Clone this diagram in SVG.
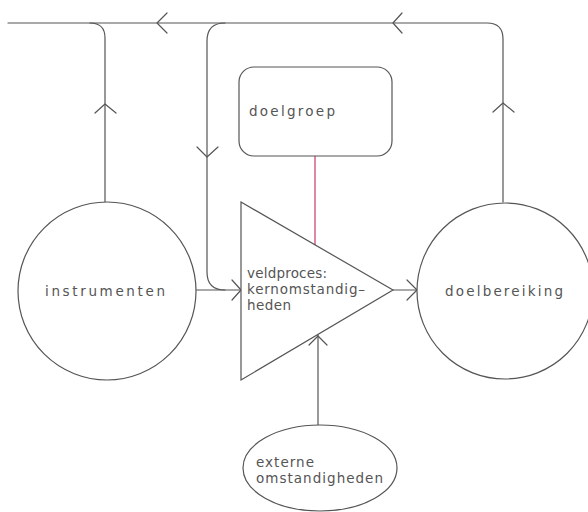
<svg xmlns="http://www.w3.org/2000/svg" width="588" height="512" viewBox="0 0 588 512">
<style>
.ln{fill:none;stroke:#555;stroke-width:1.2;stroke-linejoin:round;stroke-linecap:round}
.pk{stroke:#c8386a}
.nd{fill:#fff;stroke:#555;stroke-width:1.2}
.tx{font-family:"DejaVu Sans","Liberation Sans",sans-serif;font-size:13.5px;fill:#555}
</style>
<rect width="588" height="512" fill="#fff"/>
<g id="connectors">
<path class="ln" d="M8 23 H487 Q503 23 503 39 V202"/>
<path class="ln" d="M90 23 Q105 23 105 38 V202"/>
<path class="ln" d="M225 23 Q207 23 207 41 V272 Q207 290 225 290"/>
<path class="ln" d="M196 290 H241"/>
<path class="ln" d="M393 290 H417"/>
<path class="ln pk" d="M315 156 V245"/>
<path class="ln" d="M318 425 V335"/>
<path class="ln" d="M167 13 L157 23 L167 33"/>
<path class="ln" d="M402 13 L393 23 L402 33"/>
<path class="ln" d="M95 113 L105 104 L116 113"/>
<path class="ln" d="M493 112 L503 103 L514 112"/>
<path class="ln" d="M197 147 L207 157 L218 147"/>
<path class="ln" d="M232 280 L241 290 L232 300"/>
<path class="ln" d="M407 280 L417 290 L407 300"/>
<path class="ln" d="M309 345 L318 336 L327 345"/>
</g>
<g id="doelgroep">
<rect class="nd" x="239" y="67" width="153" height="89" rx="15"/>
<text class="tx" x="249" y="116" textLength="86" lengthAdjust="spacing">doelgroep</text>
</g>
<g id="instrumenten">
<circle class="nd" cx="107" cy="291" r="89"/>
<text class="tx" x="45" y="296" textLength="120" lengthAdjust="spacing">instrumenten</text>
</g>
<g id="veldproces">
<polygon class="nd" points="241,202 393,290 241,380"/>
<text class="tx" x="247" y="278" textLength="80" lengthAdjust="spacing">veldproces:</text>
<text class="tx" x="247" y="294" textLength="118" lengthAdjust="spacing">kernomstandig–</text>
<text class="tx" x="247" y="310" textLength="44" lengthAdjust="spacing">heden</text>
</g>
<g id="doelbereiking">
<circle class="nd" cx="505" cy="291" r="88"/>
<text class="tx" x="445" y="296" textLength="118" lengthAdjust="spacing">doelbereiking</text>
</g>
<g id="externe">
<ellipse class="nd" cx="320" cy="468" rx="77" ry="43"/>
<text class="tx" x="256" y="467" textLength="58" lengthAdjust="spacing">externe</text>
<text class="tx" x="256" y="483" textLength="127" lengthAdjust="spacing">omstandigheden</text>
</g>
</svg>
